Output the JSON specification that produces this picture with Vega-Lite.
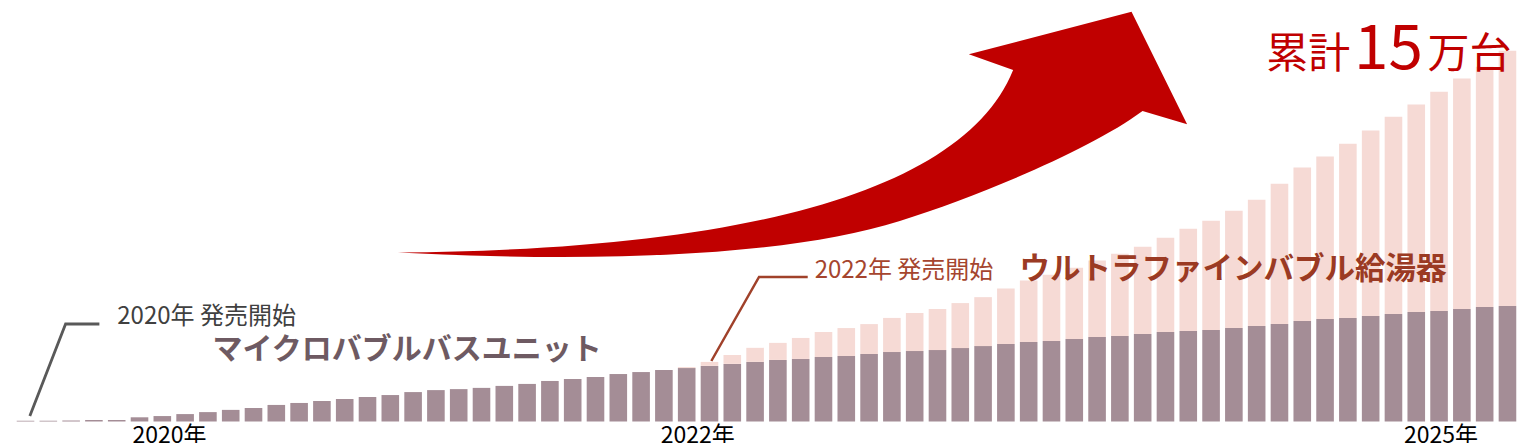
{
  "$schema": "https://vega.github.io/schema/vega-lite/v6.json",
  "width": 1525,
  "height": 421.5,
  "autosize": {"type": "none"},
  "padding": {"left": 0, "top": 0, "right": 0, "bottom": 21.5},
  "background": "white",
  "datasets": {
    "sales": [
      {"n": 1, "bath": 0.3, "heater": 0},
      {"n": 2, "bath": 0.3, "heater": 0},
      {"n": 3, "bath": 0.4, "heater": 0},
      {"n": 4, "bath": 0.6, "heater": 0},
      {"n": 5, "bath": 0.6, "heater": 0},
      {"n": 6, "bath": 1.7, "heater": 0},
      {"n": 7, "bath": 2.2, "heater": 0},
      {"n": 8, "bath": 3.0, "heater": 0},
      {"n": 9, "bath": 3.8, "heater": 0},
      {"n": 10, "bath": 4.7, "heater": 0},
      {"n": 11, "bath": 5.5, "heater": 0},
      {"n": 12, "bath": 6.7, "heater": 0},
      {"n": 13, "bath": 7.5, "heater": 0},
      {"n": 14, "bath": 8.3, "heater": 0},
      {"n": 15, "bath": 9.1, "heater": 0},
      {"n": 16, "bath": 9.9, "heater": 0},
      {"n": 17, "bath": 10.7, "heater": 0},
      {"n": 18, "bath": 11.9, "heater": 0},
      {"n": 19, "bath": 12.7, "heater": 0},
      {"n": 20, "bath": 13.1, "heater": 0},
      {"n": 21, "bath": 13.6, "heater": 0},
      {"n": 22, "bath": 14.4, "heater": 0},
      {"n": 23, "bath": 15.2, "heater": 0},
      {"n": 24, "bath": 16.4, "heater": 0},
      {"n": 25, "bath": 17.2, "heater": 0},
      {"n": 26, "bath": 18.0, "heater": 0},
      {"n": 27, "bath": 19.2, "heater": 0},
      {"n": 28, "bath": 20.0, "heater": 0},
      {"n": 29, "bath": 20.8, "heater": 0},
      {"n": 30, "bath": 21.6, "heater": 0.4},
      {"n": 31, "bath": 22.5, "heater": 1.6},
      {"n": 32, "bath": 23.3, "heater": 3.6},
      {"n": 33, "bath": 24.1, "heater": 5.7},
      {"n": 34, "bath": 24.9, "heater": 6.9},
      {"n": 35, "bath": 25.3, "heater": 8.5},
      {"n": 36, "bath": 26.1, "heater": 10.1},
      {"n": 37, "bath": 26.5, "heater": 11.3},
      {"n": 38, "bath": 27.3, "heater": 12.1},
      {"n": 39, "bath": 28.1, "heater": 13.8},
      {"n": 40, "bath": 28.5, "heater": 15.4},
      {"n": 41, "bath": 28.9, "heater": 16.6},
      {"n": 42, "bath": 29.7, "heater": 18.2},
      {"n": 43, "bath": 30.5, "heater": 19.8},
      {"n": 44, "bath": 31.3, "heater": 22.5},
      {"n": 45, "bath": 32.2, "heater": 24.8},
      {"n": 46, "bath": 32.6, "heater": 26.8},
      {"n": 47, "bath": 33.4, "heater": 28.8},
      {"n": 48, "bath": 34.2, "heater": 30.9},
      {"n": 49, "bath": 34.6, "heater": 33.3},
      {"n": 50, "bath": 35.4, "heater": 35.3},
      {"n": 51, "bath": 36.2, "heater": 38.1},
      {"n": 52, "bath": 36.6, "heater": 41.4},
      {"n": 53, "bath": 37.0, "heater": 44.2},
      {"n": 54, "bath": 37.8, "heater": 47.4},
      {"n": 55, "bath": 38.6, "heater": 51.1},
      {"n": 56, "bath": 39.4, "heater": 56.8},
      {"n": 57, "bath": 40.7, "heater": 62.0},
      {"n": 58, "bath": 41.5, "heater": 65.7},
      {"n": 59, "bath": 41.9, "heater": 70.5},
      {"n": 60, "bath": 42.7, "heater": 75.0},
      {"n": 61, "bath": 43.5, "heater": 79.8},
      {"n": 62, "bath": 44.3, "heater": 83.9},
      {"n": 63, "bath": 44.7, "heater": 88.7},
      {"n": 64, "bath": 45.5, "heater": 93.2},
      {"n": 65, "bath": 46.3, "heater": 97.2},
      {"n": 66, "bath": 46.7, "heater": 103.3}
    ],
    "leaders": [
      {"g": "2020", "p": 1, "n": 1.189, "v": 2.22},
      {"g": "2020", "p": 2, "n": 2.758, "v": 39.44},
      {"g": "2020", "p": 3, "n": 4.24, "v": 39.44},
      {"g": "2022", "p": 1, "n": 31.081, "v": 24.47},
      {"g": "2022", "p": 2, "n": 33.173, "v": 58.45},
      {"g": "2022", "p": 3, "n": 35.308, "v": 58.45}
    ]
  },
  "layer": [
    {
      "data": {"name": "sales"},
      "transform": [{"fold": ["bath", "heater"], "as": ["product", "units"]}],
      "mark": {"type": "bar", "width": 17.6},
      "encoding": {
        "x": {
          "field": "n",
          "type": "quantitative",
          "scale": {"domain": [0.1, 66.55], "nice": false, "zero": false},
          "axis": {
            "title": null,
            "values": [7.29, 30.46, 63.06],
            "labelExpr": "datum.value < 20 ? '2020年' : datum.value < 50 ? '2022年' : '2025年'",
            "domain": false,
            "ticks": false,
            "grid": false,
            "labelFont": "Noto Sans CJK JP",
            "labelFontSize": 23,
            "labelColor": "#000000",
            "labelPadding": 3,
            "labelFlush": false,
            "labelOverlap": false
          }
        },
        "y": {
          "field": "units",
          "type": "quantitative",
          "stack": "zero",
          "scale": {"domain": [0, 170.5], "nice": false},
          "axis": null
        },
        "color": {
          "field": "product",
          "type": "nominal",
          "scale": {"domain": ["bath", "heater"], "range": ["#A48D96", "#F6DAD5"]},
          "legend": null
        },
        "order": {"field": "product", "sort": "ascending"}
      }
    },
    {
      "data": {"values": [{"label": "arrow"}]},
      "mark": {
        "type": "point",
        "shape": "M-1.0006,0.3004C-0.1084,0.2940,0.4366,0.1420,0.5591,-0.1622L0.4468,-0.2020L0.8592,-0.3100L1.0001,-0.0246L0.8871,-0.0583C0.7535,0.0406,0.4747,0.1559,0.2719,0.2205C-0.0070,0.3093,-0.4886,0.3270,-1.0006,0.3004Z",
        "size": 622521,
        "filled": true,
        "fill": "#C00000",
        "strokeWidth": 0,
        "opacity": 1
      },
      "encoding": {
        "x": {"datum": 34.644, "type": "quantitative"},
        "y": {"datum": 116.3, "type": "quantitative"}
      }
    },
    {
      "data": {"name": "leaders"},
      "transform": [{"filter": "datum.g == '2020'"}],
      "mark": {"type": "line", "color": "#595959", "strokeWidth": 2.8},
      "encoding": {
        "x": {"field": "n", "type": "quantitative"},
        "y": {"field": "v", "type": "quantitative"},
        "order": {"field": "p"}
      }
    },
    {
      "data": {"name": "leaders"},
      "transform": [{"filter": "datum.g == '2022'"}],
      "mark": {"type": "line", "color": "#A0412A", "strokeWidth": 2.5},
      "encoding": {
        "x": {"field": "n", "type": "quantitative"},
        "y": {"field": "v", "type": "quantitative"},
        "order": {"field": "p"}
      }
    },
    {
      "data": {"values": [{"label": "2020年 発売開始"}]},
      "mark": {"type": "text", "align": "left", "baseline": "middle", "font": "Noto Sans CJK JP", "fontSize": 24, "color": "#404040"},
      "encoding": {
        "x": {"datum": 5.024, "type": "quantitative"},
        "y": {"datum": 42.27, "type": "quantitative"},
        "text": {"field": "label"}
      }
    },
    {
      "data": {"values": [{"label": "マイクロバブルバスユニット"}]},
      "mark": {"type": "text", "align": "left", "baseline": "middle", "font": "Noto Sans CJK JP", "fontSize": 30, "fontWeight": "bold", "color": "#6E5A62"},
      "encoding": {
        "x": {"datum": 9.2, "type": "quantitative"},
        "y": {"datum": 28.92, "type": "quantitative"},
        "text": {"field": "label"}
      }
    },
    {
      "data": {"values": [{"label": "2022年 発売開始"}]},
      "mark": {"type": "text", "align": "left", "baseline": "middle", "font": "Noto Sans CJK JP", "fontSize": 24, "color": "#A5452E"},
      "encoding": {
        "x": {"datum": 35.613, "type": "quantitative"},
        "y": {"datum": 60.88, "type": "quantitative"},
        "text": {"field": "label"}
      }
    },
    {
      "data": {"values": [{"label": "ウルトラファインバブル給湯器"}]},
      "mark": {"type": "text", "align": "left", "baseline": "middle", "font": "Noto Sans CJK JP", "fontSize": 30.5, "fontWeight": "bold", "color": "#9B3A23"},
      "encoding": {
        "x": {"datum": 44.6, "type": "quantitative"},
        "y": {"datum": 61.28, "type": "quantitative"},
        "text": {"field": "label"}
      }
    },
    {
      "data": {"values": [{"label": "累計"}]},
      "mark": {"type": "text", "align": "right", "baseline": "middle", "font": "Noto Sans CJK JP", "fontSize": 42, "color": "#C00000"},
      "encoding": {
        "x": {"datum": 59.1, "type": "quantitative"},
        "y": {"datum": 148.25, "type": "quantitative"},
        "text": {"field": "label"}
      }
    },
    {
      "data": {"values": [{"label": "15"}]},
      "mark": {"type": "text", "align": "center", "baseline": "middle", "font": "Liberation Sans Narrow, Noto Sans CJK JP", "fontSize": 62, "color": "#C00000"},
      "encoding": {
        "x": {"datum": 60.777, "type": "quantitative"},
        "y": {"datum": 150.27, "type": "quantitative"},
        "text": {"field": "label"}
      }
    },
    {
      "data": {"values": [{"label": "万台"}]},
      "mark": {"type": "text", "align": "left", "baseline": "middle", "font": "Noto Sans CJK JP", "fontSize": 42, "color": "#C00000"},
      "encoding": {
        "x": {"datum": 62.498, "type": "quantitative"},
        "y": {"datum": 148.25, "type": "quantitative"},
        "text": {"field": "label"}
      }
    }
  ],
  "config": {
    "view": {"stroke": null}
  }
}
